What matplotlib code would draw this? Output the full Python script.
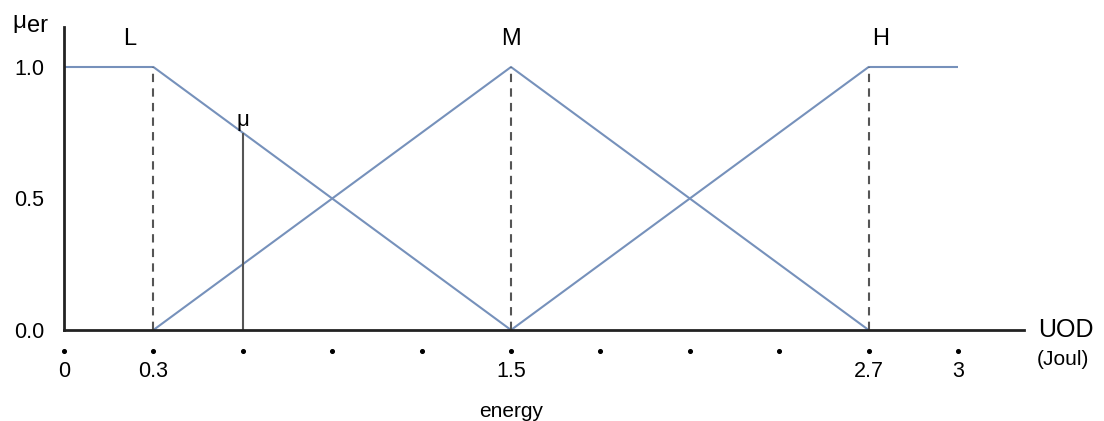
import matplotlib
matplotlib.use("Agg")
import matplotlib.pyplot as plt
import numpy as np

plt.rcParams['font.family'] = ['Liberation Sans', 'DejaVu Sans']

# membership functions of the energy universe of discourse
low_x = [0.0, 0.3, 1.5]
low_y = [1.0, 1.0, 0.0]
mid_x = [0.3, 1.5, 2.7]
mid_y = [0.0, 1.0, 0.0]
high_x = [1.5, 2.7, 3.0]
high_y = [0.0, 1.0, 1.0]

set_names = ["L", "M", "H"]
set_label_x = [0.22, 1.5, 2.74]
peak_x = [0.3, 1.5, 2.7]

dot_x = [0.0, 0.3, 0.6, 0.9, 1.2, 1.5, 1.8, 2.1, 2.4, 2.7, 3.0]
tick_x = [0.0, 0.3, 1.5, 2.7, 3.0]
tick_labels = ["0", "0.3", "1.5", "2.7", "3"]
y_ticks = [0.0, 0.5, 1.0]
y_labels = ["0.0", "0.5", "1.0"]

mu_x = 0.6
mu_val = 0.75

line_col = "#7691bb"

W, H = 1104, 421
fig = plt.figure(figsize=(W / 100, H / 100), dpi=100)
# x=0 at 64px, 298px per unit; y=0 at 330px, 263px per unit
ax = fig.add_axes([64 / W, (H - 330) / H, 960 / W, 303 / H])
xmax = 960 / 298
ax.set_xlim(0, xmax)
ax.set_ylim(0, 303 / 263)

for xs, ys in [(low_x, low_y), (mid_x, mid_y), (high_x, high_y)]:
    ax.plot(xs, ys, color=line_col, lw=1.5, solid_capstyle="butt")

ax.vlines(peak_x, 0, 1, colors="#555555", linestyles=(0, (4, 3)), lw=1.5)
ax.vlines([mu_x], 0, mu_val, colors="#555555", lw=1.5)
ax.text(mu_x, mu_val + 0.008, "μ", ha="center", va="bottom", fontsize=16)

for name, x in zip(set_names, set_label_x):
    ax.text(x, 1.105, name, ha="center", va="center", fontsize=17)

for s in ["top", "right"]:
    ax.spines[s].set_visible(False)
for s in ["left", "bottom"]:
    ax.spines[s].set_linewidth(2)
    ax.spines[s].set_color("#222222")

ax.set_yticks(y_ticks)
ax.set_yticklabels(y_labels, fontsize=15.5)
ax.set_xticks(tick_x)
ax.set_xticklabels(tick_labels, fontsize=15.5)
ax.tick_params(axis="y", length=0, pad=14)
ax.tick_params(axis="x", length=0, pad=22)

ax.scatter(dot_x, [-0.078] * len(dot_x), s=7, color="black", clip_on=False, zorder=5)

ax.text(xmax + 0.047, 0.0, "UOD", ha="left", va="center", fontsize=18)
ax.text(xmax + 0.043, -0.114, "(Joul)", ha="left", va="center", fontsize=15)
ax.text(1.5, -0.31, "energy", ha="center", va="center", fontsize=15)

# y-axis title: mu with subscript "er"
fig.text(12 / W, 1 - 28 / H, "μ", ha="left", va="baseline", fontsize=17.5)
fig.text(27 / W, 1 - 32.5 / H, "er", ha="left", va="baseline", fontsize=17)

fig.savefig("out.png", dpi=100)
